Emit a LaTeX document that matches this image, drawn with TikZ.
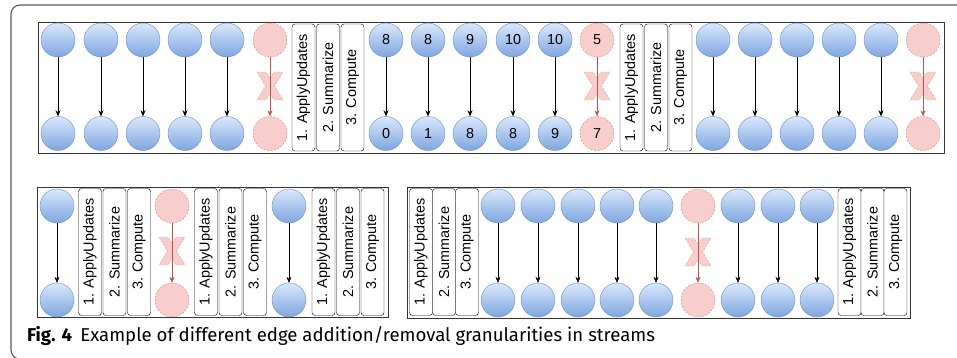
\documentclass[tikz,border=0pt]{standalone}
\usepackage{fontspec}
\setsansfont{Liberation Sans}
\newfontfamily\capfont{Fira Sans}
\usetikzlibrary{arrows.meta}
\definecolor{vtxfill}{HTML}{DAE8FC}
\definecolor{vtxshade}{HTML}{7EA6E0}
\definecolor{vtxline}{HTML}{6C8EBF}
\definecolor{delfill}{HTML}{F8CECC}
\definecolor{delline}{HTML}{B85450}
% three stage boxes: name, x of first box, y centre, step
\newcommand{\stagegroup}[4]{%
  \node[stage] (#1u) at (#2,#3) {1. ApplyUpdates};
  \node[stage] (#1s) at (#2+#4,#3) {2. Summarize};
  \node[stage] (#1c) at (#2+2*#4,#3) {3. Compute};}

\begin{document}
\begin{tikzpicture}[
    x=1pt, y=-1pt,
    font=\sffamily\fontsize{14.4}{16}\selectfont,
    vtx/.style={circle, draw=vtxline, top color=vtxfill, bottom color=vtxshade,
      minimum size=34pt, inner sep=0pt},
    delvtx/.style={circle, draw=delline!70, dash pattern=on 2pt off 1.5pt,
      fill=delfill, minimum size=34pt, inner sep=0pt},
    stage/.style={draw=black, rounded corners=3pt, fill=white, rotate=90,
      minimum width=127pt, minimum height=23pt, inner sep=0pt},
    panel/.style={draw=black!80, line width=0.8pt},
    edge/.style={-{Stealth[length=6pt,width=5pt]}, thin},
    deledge/.style={-{Stealth[length=6pt,width=5pt]}, draw=delline, thin},
    xmark/.pic={\draw[delline!60, fill=delfill, dash pattern=on 2pt off 1.5pt]
      (-13,-14) -- (-4,-14) -- (0,-7.4) -- (4,-14) -- (13,-14) -- (4.5,0) --
      (13,14) -- (4,14) -- (0,7.4) -- (-4,14) -- (-13,14) -- (-4.5,0) -- cycle;}]
    \useasboundingbox (0,0) rectangle (957,357);
    \clip (0,0) rectangle (957,357);
    % outer frame
    \draw[gray!70!black, line width=1.1pt, rounded corners=9pt] (11,5) rectangle (990,359);
    % PANELS
    \draw[panel] (38,22) rectangle (944,153);
    \draw[panel] (37,187) rectangle (388,317);
    \draw[panel] (407,187) rectangle (910,318);

    % TOP ROW
    \foreach \i/\x in {1/58,2/101,3/143,4/185,5/227}{
      \node[vtx] (at\i) at (\x,40) {};
      \node[vtx] (ab\i) at (\x,133.5) {};
      \draw[edge] (at\i) -- (ab\i);}
    \node[delvtx] (at6) at (270,40) {};
    \node[delvtx] (ab6) at (270,133.5) {};
    \pic at (270,86) {xmark};
    \draw[deledge] (at6) -- (ab6);
    \stagegroup{sa}{303.5}{87.5}{24.5}

    \foreach \i/\x/\s/\d in {1/386/8/0,2/428/8/1,3/470/9/8,4/513/10/8,5/555/10/9}{
      \node[vtx] (bt\i) at (\x,40) {\s};
      \node[vtx] (bb\i) at (\x,133.5) {\d};
      \draw[edge] (bt\i) -- (bb\i);}
    \node[delvtx] (bt6) at (597,40) {5};
    \node[delvtx] (bb6) at (597,133.5) {7};
    \pic at (597,86) {xmark};
    \draw[deledge] (bt6) -- (bb6);
    \stagegroup{sb}{631.5}{87.5}{24.5}

    \foreach \i/\x in {1/713,2/755,3/797,4/839,5/881}{
      \node[vtx] (ct\i) at (\x,40) {};
      \node[vtx] (cb\i) at (\x,133.5) {};
      \draw[edge] (ct\i) -- (cb\i);}
    \node[delvtx] (ct6) at (923,40) {};
    \node[delvtx] (cb6) at (923,133.5) {};
    \pic at (923,86) {xmark};
    \draw[deledge] (ct6) -- (cb6);

    % BOTTOM LEFT
    \node[vtx] (dt1) at (57,206) {};
    \node[vtx] (db1) at (57,300) {};
    \draw[edge] (dt1) -- (db1);
    \stagegroup{sd}{90}{252}{24.5}
    \node[delvtx] (dt2) at (172,206) {};
    \node[delvtx] (db2) at (172,300) {};
    \pic at (172,251) {xmark};
    \draw[deledge] (dt2) -- (db2);
    \stagegroup{se}{206}{252}{24.5}
    \node[vtx] (dt3) at (289,206) {};
    \node[vtx] (db3) at (289,300) {};
    \draw[edge] (dt3) -- (db3);
    \stagegroup{sf}{323.5}{252}{24.5}

    % BOTTOM RIGHT
    \stagegroup{sg}{421}{252}{23}
    \foreach \i/\x in {1/498,2/538,3/578,4/617,5/656,7/738,8/778,9/817}{
      \node[vtx] (et\i) at (\x,206) {};
      \node[vtx] (eb\i) at (\x,300) {};
      \draw[edge] (et\i) -- (eb\i);}
    \node[delvtx] (et6) at (698,206) {};
    \node[delvtx] (eb6) at (698,300) {};
    \pic at (698,252) {xmark};
    \draw[deledge] (et6) -- (eb6);
    \stagegroup{sh}{849.5}{252}{23}

    % caption node
    \node[anchor=west, inner sep=0pt, font=\capfont\fontsize{18.6}{20}\selectfont] (Cap) at (27,336)
      {\textbf{Fig. 4}\hspace{0.45em}Example of different edge addition/removal granularities in streams};
\end{tikzpicture}
\end{document}
